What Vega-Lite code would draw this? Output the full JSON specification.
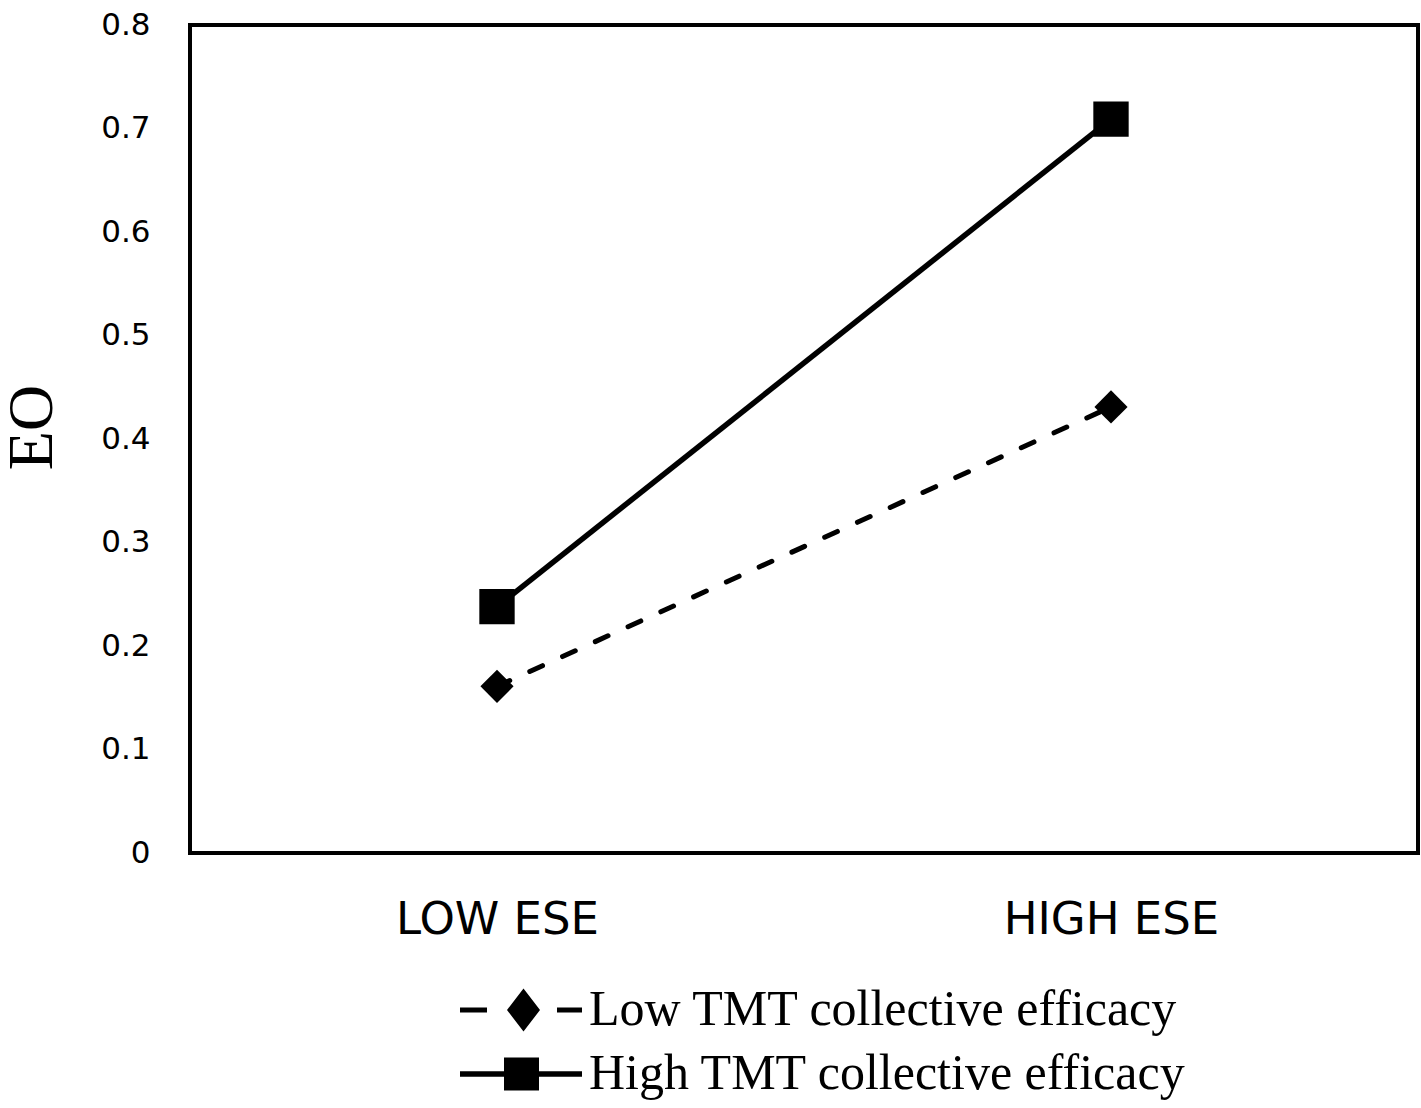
{
  "$schema": "https://vega.github.io/schema/vega-lite/v6.json",
  "width": 1228,
  "height": 828,
  "autosize": "none",
  "padding": {"left": 190, "top": 25, "right": 3, "bottom": 255},
  "background": "white",
  "data": {
    "values": [
      {"ese": "LOW ESE", "group": "Low TMT collective efficacy", "eo": 0.161},
      {"ese": "HIGH ESE", "group": "Low TMT collective efficacy", "eo": 0.431},
      {"ese": "LOW ESE", "group": "High TMT collective efficacy", "eo": 0.238},
      {"ese": "HIGH ESE", "group": "High TMT collective efficacy", "eo": 0.709}
    ]
  },
  "encoding": {
    "x": {
      "field": "ese",
      "type": "nominal",
      "title": null,
      "scale": {"type": "point", "domain": ["LOW ESE", "HIGH ESE"], "padding": 0.5},
      "axis": {
        "labelAngle": 0,
        "labelFont": "DejaVu Sans",
        "labelFontSize": 45,
        "labelColor": "black",
        "labelLimit": 600,
        "labelPadding": 44
      }
    },
    "y": {
      "field": "eo",
      "type": "quantitative",
      "title": "EO",
      "scale": {"domain": [0, 0.8], "nice": false},
      "axis": {
        "values": [0, 0.1, 0.2, 0.3, 0.4, 0.5, 0.6, 0.7, 0.8],
        "format": ".1~f",
        "labelFont": "DejaVu Sans",
        "labelFontSize": 31,
        "labelColor": "black",
        "labelPadding": 40,
        "titleFont": "Liberation Serif",
        "titleFontSize": 64,
        "titleFontWeight": "normal",
        "titleColor": "black",
        "titlePadding": 36,
        "titleY": 402
      }
    }
  },
  "layer": [
    {
      "transform": [{"filter": "datum.group == 'Low TMT collective efficacy'"}],
      "mark": {"type": "line", "color": "black", "strokeWidth": 5, "strokeCap": "round", "strokeDash": [14, 22]}
    },
    {
      "transform": [{"filter": "datum.group == 'High TMT collective efficacy'"}],
      "mark": {"type": "line", "color": "black", "strokeWidth": 5.5}
    },
    {
      "transform": [{"filter": "datum.group == 'Low TMT collective efficacy'"}],
      "mark": {"type": "point", "shape": "diamond", "filled": true, "color": "black", "opacity": 1, "size": 1100}
    },
    {
      "transform": [{"filter": "datum.group == 'High TMT collective efficacy'"}],
      "mark": {"type": "point", "shape": "square", "filled": true, "color": "black", "opacity": 1, "size": 1250}
    },
    {
      "mark": {
        "type": "point",
        "filled": true,
        "fill": "black",
        "opacity": 0,
        "size": 1600
      },
      "encoding": {
        "shape": {
          "field": "group",
          "type": "nominal",
          "scale": {
            "domain": ["Low TMT collective efficacy", "High TMT collective efficacy"],
            "range": [
              "M-3.05,-0.13L-1.7,-0.13L-1.7,0.13L-3.05,0.13ZM1.8,-0.13L3.05,-0.13L3.05,0.13L1.8,0.13ZM0.125,-1.075L0.95,0L0.125,1.075L-0.7,0Z",
              "M-3.05,-0.14L3.05,-0.14L3.05,0.14L-3.05,0.14ZM-0.85,-0.825L0.9,-0.825L0.9,0.825L-0.85,0.825Z"
            ]
          },
          "legend": {
            "title": null,
            "orient": "none",
            "legendX": 306,
            "legendY": 960,
            "padding": 0,
            "labelFont": "Liberation Serif",
            "labelFontSize": 50,
            "labelColor": "black",
            "labelLimit": 1000,
            "labelOffset": 43,
            "rowPadding": 14,
            "symbolSize": 1600,
            "symbolFillColor": "black",
            "symbolOpacity": 1
          }
        }
      }
    }
  ],
  "config": {
    "view": {"stroke": "black", "strokeWidth": 4},
    "axis": {"grid": false, "domain": false, "ticks": false}
  }
}
